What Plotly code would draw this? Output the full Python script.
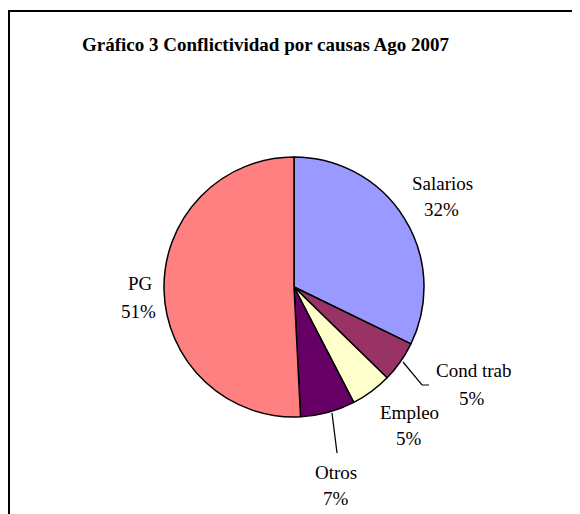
import plotly.graph_objects as go

# Conflictividad por causas, agosto 2007 (share of conflicts)
causas = ["Salarios", "Cond trab", "Empleo", "Otros", "PG"]
valores = [32.2, 5.1, 5.1, 6.8, 50.8]
colores = ["#9999FF", "#993366", "#FFFFCC", "#660066", "#FF8080"]

W, H = 580, 514
OFF = 8  # page body margin around the plot div


def px(x, y):
    # page pixel position -> paper coords (margins are zero)
    return (x - OFF) / W, 1 - (y - OFF) / H


total = sum(valores)
porcentajes = [f"{v / total:.0%}" for v in valores]

dx0, dy1 = px(164, 157)
dx1, dy0 = px(424, 417)
fig = go.Figure(go.Pie(
    labels=causas,
    values=valores,
    marker=dict(colors=colores, line=dict(color="black", width=1.5)),
    sort=False,
    direction="clockwise",
    rotation=0,
    textinfo="none",
    hoverinfo="label+percent",
    showlegend=False,
    domain=dict(x=[dx0, dx1], y=[dy0, dy1]),
))

font = dict(family="Liberation Serif, Times New Roman, serif", size=19, color="black")

# label positions (name line, percent line) in pixels
pos_labels = {
    "Salarios": ((442, 183), (441, 210)),
    "Cond trab": ((473, 370), (472, 398)),
    "Empleo": ((409, 412), (409, 438)),
    "Otros": ((336, 472), (336, 498)),
    "PG": ((140, 283), (138, 311)),
}

annotations = []
for causa, pct in zip(causas, porcentajes):
    (nx, ny), (qx, qy) = pos_labels[causa]
    for (x, y), txt in (((nx, ny), causa), ((qx, qy), pct)):
        ax, ay = px(x, y)
        annotations.append(dict(x=ax, y=ay, xref="paper", yref="paper", text=txt,
                                showarrow=False, font=font, xanchor="center", yanchor="middle"))

tx, ty = px(265, 45)
annotations.append(dict(x=tx, y=ty, xref="paper", yref="paper",
                        text="<b>Gráfico 3 Conflictividad por causas Ago 2007</b>",
                        showarrow=False, xanchor="center", yanchor="middle",
                        font=dict(family="Liberation Serif, Times New Roman, serif", size=19, color="black")))

# leader lines
lineas = [
    [(403, 362), (422, 385), (429, 385)],
    [(332, 413), (337, 453)],
]
shapes = []
for pts in lineas:
    path = "M " + " L ".join(f"{px(x, y)[0]} {px(x, y)[1]}" for x, y in pts)
    shapes.append(dict(type="path", path=path, xref="paper", yref="paper",
                       line=dict(color="black", width=1.2)))

# chart frame (only top and left edges visible)
x0, y0 = px(9, 11)
x1, y1 = px(620, 560)
shapes.append(dict(type="rect", xref="paper", yref="paper", x0=x0, y0=y1, x1=x1, y1=y0,
                   line=dict(color="black", width=2)))

fig.update_layout(
    width=W, height=H,
    margin=dict(l=0, r=0, t=0, b=0),
    paper_bgcolor="white",
    plot_bgcolor="white",
    annotations=annotations,
    shapes=shapes,
)

fig.write_html("out.html")
